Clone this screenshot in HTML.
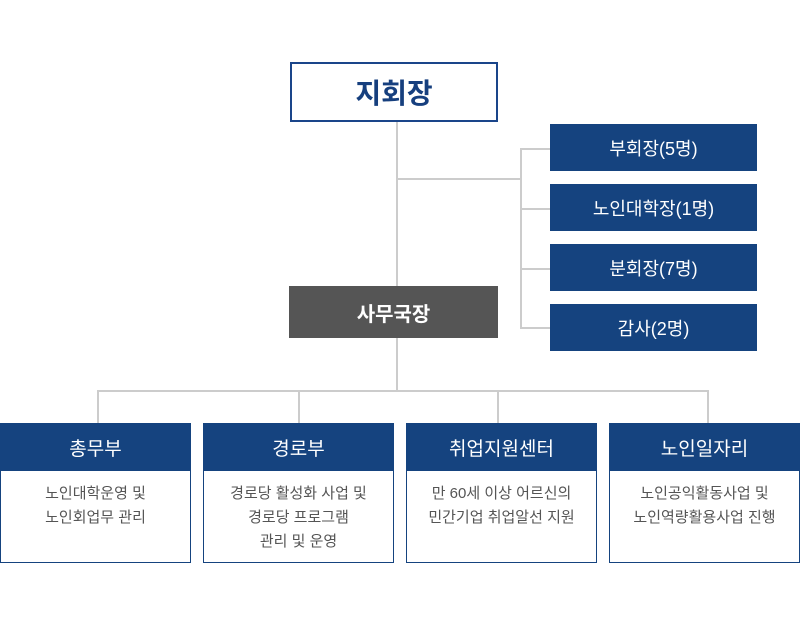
<!DOCTYPE html>
<html><head><meta charset="utf-8"><style>
body{margin:0;width:800px;height:620px;background:#fff;position:relative;overflow:hidden;font-family:"Liberation Sans","Noto Sans CJK KR",sans-serif}
.a{position:absolute;box-sizing:border-box}
.l{position:absolute;background:#cccccc}
.top{left:290px;top:62px;width:208px;height:60px;border:2px solid #1a458a;color:#163f7e;font-weight:bold;font-size:28px;display:flex;align-items:center;justify-content:center}
.gray{left:289px;top:286px;width:209px;height:52px;background:#555;color:#fff;font-weight:bold;font-size:20px;display:flex;align-items:center;justify-content:center}
.s{left:550px;width:207px;height:47px;background:#15437f;color:#fff;font-size:18px;display:flex;align-items:center;justify-content:center}
.b{top:423px;width:191px;height:140px;border:1px solid #15437f}
.b .h{height:47px;background:#15437f;color:#fff;font-size:19px;display:flex;align-items:center;justify-content:center}
.b .t{color:#555;font-size:15px;line-height:24px;text-align:center;padding-top:11px}
</style></head><body>
<div class="l" style="left:396px;top:122px;width:2px;height:165px"></div>
<div class="l" style="left:396px;top:178px;width:126px;height:2px"></div>
<div class="l" style="left:520px;top:148px;width:2px;height:181px"></div>
<div class="l" style="left:520px;top:148px;width:30px;height:2px"></div>
<div class="l" style="left:520px;top:208px;width:30px;height:2px"></div>
<div class="l" style="left:520px;top:268px;width:30px;height:2px"></div>
<div class="l" style="left:520px;top:327px;width:30px;height:2px"></div>
<div class="l" style="left:396px;top:338px;width:2px;height:53px"></div>
<div class="l" style="left:97px;top:390px;width:612px;height:2px"></div>
<div class="l" style="left:97px;top:390px;width:2px;height:33px"></div>
<div class="l" style="left:298px;top:390px;width:2px;height:33px"></div>
<div class="l" style="left:497px;top:390px;width:2px;height:33px"></div>
<div class="l" style="left:707px;top:390px;width:2px;height:33px"></div>
<div class="a top">지회장</div>
<div class="a gray">사무국장</div>
<div class="a s" style="top:124px">부회장(5명)</div>
<div class="a s" style="top:184px">노인대학장(1명)</div>
<div class="a s" style="top:244px">분회장(7명)</div>
<div class="a s" style="top:304px">감사(2명)</div>
<div class="a b" style="left:0"><div class="h">총무부</div><div class="t">노인대학운영 및<br>노인회업무 관리</div></div>
<div class="a b" style="left:203px"><div class="h">경로부</div><div class="t">경로당 활성화 사업 및<br>경로당 프로그램<br>관리 및 운영</div></div>
<div class="a b" style="left:406px"><div class="h">취업지원센터</div><div class="t">만 60세 이상 어르신의<br>민간기업 취업알선 지원</div></div>
<div class="a b" style="left:609px"><div class="h">노인일자리</div><div class="t">노인공익활동사업 및<br>노인역량활용사업 진행</div></div>
</body></html>
